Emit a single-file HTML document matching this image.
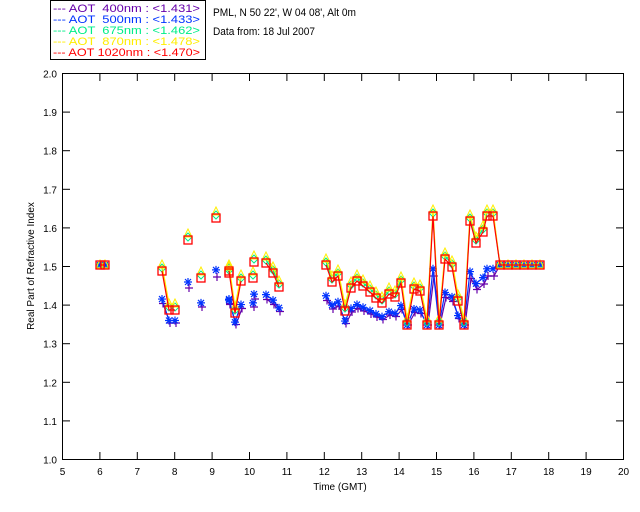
<!DOCTYPE html>
<html><head><meta charset="utf-8"><style>
body{margin:0;background:#fff;}
svg{display:block;font-family:"Liberation Sans",sans-serif;}
</style></head><body>
<svg id="s" width="640" height="512" xmlns="http://www.w3.org/2000/svg">
<rect x="0" y="0" width="640" height="512" fill="#fff"/>
<rect x="50.5" y="0.5" width="155" height="59" fill="none" stroke="#000"/>
<g font-size="11">
<text x="53" y="12" fill="#6600aa" xml:space="preserve" textLength="147" lengthAdjust="spacingAndGlyphs">--- AOT  400nm : &lt;1.431&gt;</text>
<text x="53" y="23" fill="#0033ff" xml:space="preserve" textLength="147" lengthAdjust="spacingAndGlyphs">--- AOT  500nm : &lt;1.433&gt;</text>
<text x="53" y="34" fill="#00ee88" xml:space="preserve" textLength="147" lengthAdjust="spacingAndGlyphs">--- AOT  675nm : &lt;1.462&gt;</text>
<text x="53" y="45" fill="#ffee00" xml:space="preserve" textLength="147" lengthAdjust="spacingAndGlyphs">--- AOT  870nm : &lt;1.478&gt;</text>
<text x="53" y="56" fill="#ff0000" xml:space="preserve" textLength="147" lengthAdjust="spacingAndGlyphs">--- AOT 1020nm : &lt;1.470&gt;</text>
<text x="213" y="16" fill="#000" textLength="143" lengthAdjust="spacingAndGlyphs">PML, N 50 22', W 04 08', Alt 0m</text>
<text x="213" y="35" fill="#000" textLength="102" lengthAdjust="spacingAndGlyphs">Data from: 18 Jul 2007</text>
</g>
<rect x="62.5" y="73.5" width="561" height="386" fill="none" stroke="#000"/>
<g id="ax" font-size="10" fill="#000"></g>
<text x="340" y="490" font-size="10" text-anchor="middle">Time (GMT)</text>
<text transform="translate(34,266) rotate(-90)" font-size="10" text-anchor="middle">Real Part of Refractive Index</text>
<g id="d"></g>
</svg>
<script>
var ns="http://www.w3.org/2000/svg";
function el(t,a,p){var e=document.createElementNS(ns,t);for(var k in a)e.setAttribute(k,a[k]);(p||document.getElementById('d')).appendChild(e);return e;}
var ax=document.getElementById('ax');
for(var i=5;i<=20;i++){var x=62.5+(i-5)*561/15;
el('line',{x1:x,y1:459,x2:x,y2:452,stroke:'#000'},ax);el('line',{x1:x,y1:74,x2:x,y2:81,stroke:'#000'},ax);
var t=el('text',{x:x,y:475,'text-anchor':'middle'},ax);t.textContent=i;}
for(var j=0;j<=10;j++){var y=459.5-j*38.6;
el('line',{x1:62,y1:y,x2:70,y2:y,stroke:'#000'},ax);el('line',{x1:616,y1:y,x2:623,y2:y,stroke:'#000'},ax);
var t=el('text',{x:57,y:y+4,'text-anchor':'end'},ax);t.textContent=(1+j/10).toFixed(1);}
var segs=[
[[100,265],[105,265]],
[[162,271],[169,310],[175,310]],
[[188,240]],[[201,278]],[[216,218]],[[229,273]],
[[229,271],[235,313],[241,281]],[[254,262]],[[253,278]],
[[266,263],[273,273],[279,287]],
[[326,265],[332,282],[338,276],[345,311],[351,288],[357,281],[363,286],[370,292],[376,298],[382,303],[389,294],[395,297],[401,283],[407,325],[414,289],[420,291],[427,325],[433,216],[439,325],[445,259],[452,267],[458,301],[464,325],[470,221],[476,243],[483,232],[487,216],[493,216],[500,265],[508,265],[516,265],[524,265],[532,265],[540,265]]
];
function keep(p){return p[0]<110||p[0]>=498;}
var series=[
{c:'#6600aa',f:function(p){return keep(p)?p:[p[0]+1,Math.min(325,p[1]*0.5+168)]},m:'plus'},
{c:'#0033ff',f:function(p){return keep(p)?p:[p[0],Math.min(325,p[1]*0.55+150)]},m:'star'},
{c:'#00ee88',f:function(p){return keep(p)?p:[p[0],p[1]-3]},m:'dia'},
{c:'#ffee00',f:function(p){return keep(p)?p:[p[0],p[1]-6]},m:'tri'},
{c:'#ff0000',f:function(p){return p},m:'sq'}];
series.forEach(function(s){
segs.forEach(function(sg){var pts=sg.map(s.f);
if(pts.length>1)el('polyline',{points:pts.map(function(p){return p.join(',')}).join(' '),fill:'none',stroke:s.c,'stroke-width':1.2});
pts.forEach(function(p){var x=p[0],y=p[1];
if(s.m=='sq')el('rect',{x:x-4,y:y-4,width:8,height:8,fill:'none',stroke:s.c,'stroke-width':1.3});
else if(s.m=='tri')el('polygon',{points:(x)+','+(y-5)+' '+(x-4)+','+(y+3)+' '+(x+4)+','+(y+3),fill:'none',stroke:s.c});
else if(s.m=='dia')el('polygon',{points:x+','+(y-4)+' '+(x+4)+','+y+' '+x+','+(y+4)+' '+(x-4)+','+y,fill:'none',stroke:s.c});
else if(s.m=='plus')el('path',{d:'M'+(x-4)+' '+y+'h8M'+x+' '+(y-4)+'v8',stroke:s.c,'stroke-width':1.2});
else el('path',{d:'M'+(x-4)+' '+y+'h8M'+x+' '+(y-4)+'v8M'+(x-3)+' '+(y-3)+'l6 6M'+(x+3)+' '+(y-3)+'l-6 6',stroke:s.c,'stroke-width':1.2});
});});});
</script>
</body></html>
